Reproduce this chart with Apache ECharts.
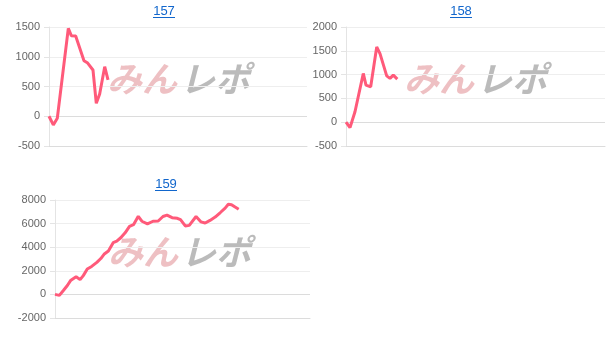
<!DOCTYPE html>
<html>
<head>
<meta charset="utf-8">
<script src="https://cdn.jsdelivr.net/npm/echarts@6/dist/echarts.min.js"></script>
<style>
html,body{margin:0;padding:0;background:#fff;}
#c{width:614px;height:347px;}
</style>
</head>
<body>
<div id="c"></div>
<script>
// Chart titles
const titles = ['157', '158', '159'];
// Y axis ranges / tick labels
const yMin = [-500, -500, -2000];
const yMax = [1500, 2000, 8000];
const yStep = [500, 500, 2000];
const xMax = 64;

// Series 157
const x157 = [0, 1.07, 2.06, 4.79, 5.53, 6.62, 8.68, 9.5, 10.91, 11.73, 12.57, 13.82, 14.64];
const v157 = [0, -146, -34, 1478, 1354, 1349, 934, 900, 778, 218, 375, 833, 610];

// Series 158
const x158 = [0, 0.99, 2.22, 4.27, 4.94, 6.1, 7.59, 8.4, 10.06, 10.87, 11.69, 12.68];
const v158 = [0, -113, 220, 1024, 780, 744, 1580, 1442, 974, 920, 989, 905];

// Series 159
const x159 = [0, 1.1, 2.1, 3.1, 3.9, 5.3, 6.3, 7.1, 8.1, 9.2, 10.5, 11.5, 12.3, 13.4, 14.6, 15.5, 16.5, 17.6, 18.7, 19.7, 20.9, 21.8, 23.2, 24.6, 25.9, 27.1, 28.1, 29.4, 30.7, 31.5, 32.7, 33.7, 35.4, 36.6, 37.7, 38.9, 40.2, 41.5, 42.7, 43.5, 44.3, 45.2, 46.1];
const v159 = [0, -80, 330, 750, 1170, 1500, 1250, 1590, 2150, 2370, 2710, 3040, 3400, 3680, 4380, 4510, 4800, 5220, 5770, 5910, 6620, 6200, 5980, 6200, 6220, 6600, 6720, 6500, 6450, 6330, 5800, 5850, 6600, 6150, 6050, 6270, 6550, 6940, 7310, 7640, 7600, 7400, 7220];

const xs = [x157, x158, x159];
const vs = [v157, v158, v159];

const grids = [
  {left: 49, top: 27, width: 258, height: 119},
  {left: 346, top: 27, width: 259, height: 119},
  {left: 55, top: 200, width: 255, height: 118}
];
const titlePos = [[164, 11], [461, 11], [166, 184]];
const markPos = [[107, 79], [404, 79], [108, 252]];

const chart = echarts.init(document.getElementById('c'), null, {renderer: 'canvas'});

const graphic = [];
titles.forEach((t, i) => {
  const [cx, cy] = titlePos[i];
  graphic.push({type: 'text', x: cx, y: cy, z: 10,
    style: {text: t, fill: '#1166cc', font: '13px "Liberation Sans", Arial, sans-serif', textAlign: 'center', textVerticalAlign: 'middle'}});
  graphic.push({type: 'line', z: 10, shape: {x1: cx - 11, y1: cy + 6.5, x2: cx + 11, y2: cy + 6.5},
    style: {stroke: '#1166cc', lineWidth: 1}});
  const [mx, my] = markPos[i];
  graphic.push({type: 'text', x: mx, y: my, z: 0,
    style: {text: 'みん', fill: 'rgba(226,150,155,0.6)', font: 'italic bold 35px "Noto Sans CJK JP", sans-serif', textAlign: 'left', textVerticalAlign: 'middle'}});
  graphic.push({type: 'text', x: mx + 73, y: my, z: 0,
    style: {text: 'レポ', fill: 'rgba(150,150,150,0.65)', font: 'italic bold 35px "Noto Sans CJK JP", sans-serif', textAlign: 'left', textVerticalAlign: 'middle'}});
});

const option = {
  animation: false,
  grid: grids,
  graphic: graphic,
  xAxis: grids.map((g, i) => ({
    type: 'value', gridIndex: i, min: 0, max: xMax,
    axisLine: {show: true, onZero: false, lineStyle: {color: '#dcdcdc'}},
    axisTick: {show: false}, axisLabel: {show: false}, splitLine: {show: false}
  })),
  yAxis: grids.map((g, i) => ({
    type: 'value', gridIndex: i, min: yMin[i], max: yMax[i], interval: yStep[i],
    axisLine: {show: true, lineStyle: {color: '#e4e4e4'}},
    axisTick: {show: true, length: 5, lineStyle: {color: '#e4e4e4'}},
    axisLabel: {color: '#666', fontSize: 11, margin: 9, fontFamily: '"Liberation Sans", Arial, sans-serif',
      formatter: (val) => String(val)},
    splitLine: {show: true, lineStyle: {color: '#eeeeee'}}
  })),
  series: vs.map((v, i) => ({
    type: 'line', xAxisIndex: i, yAxisIndex: i, z: 5,
    data: v.map((y, k) => [xs[i][k], y]),
    showSymbol: false, symbol: 'none',
    lineStyle: {color: '#ff5a7a', width: 3},
    markLine: {silent: true, symbol: 'none', label: {show: false},
      lineStyle: {color: '#dcdcdc', type: 'solid', width: 1},
      data: [{yAxis: 0}]}
  }))
};
chart.setOption(option);
</script>
</body>
</html>
